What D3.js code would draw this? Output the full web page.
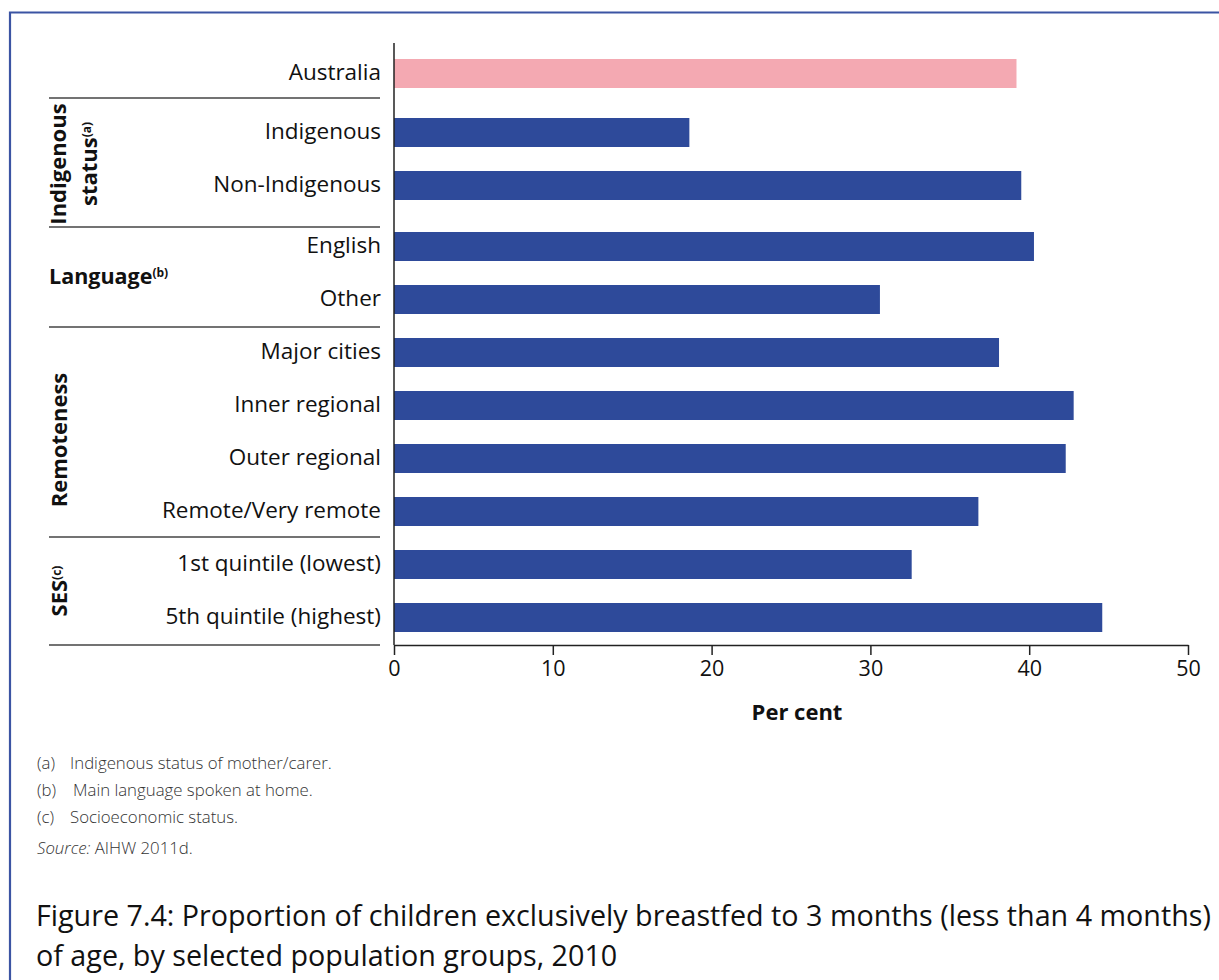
<!DOCTYPE html>
<html><head><meta charset="utf-8">
<script src="https://cdn.jsdelivr.net/npm/d3@7/dist/d3.min.js"></script>
<style>
html,body{margin:0;padding:0;background:#fff;}
svg{display:block;}
</style></head>
<body>
<script>
// ---- data ----
const categories = ["Australia","Indigenous","Non-Indigenous","English","Other","Major cities","Inner regional","Outer regional","Remote/Very remote","1st quintile (lowest)","5th quintile (highest)"];
const values = [39.2, 18.6, 39.5, 40.3, 30.6, 38.1, 42.8, 42.3, 36.8, 32.6, 44.6];
const groupOf = [0, 1, 1, 2, 2, 3, 3, 3, 3, 4, 4];
const groupNames = ["", "Indigenous status", "Language", "Remoteness", "SES"];
const groupNotes = ["", "(a)", "(b)", "(c)", "(c)"];
const xTicks = [0, 10, 20, 30, 40, 50];
const footnotes = [["(a)", "Indigenous status of mother/carer."], ["(b)", "Main language spoken at home."], ["(c)", "Socioeconomic status."]];
const titleLines = ["Figure 7.4: Proportion of children exclusively breastfed to 3 months (less than 4 months)", "of age, by selected population groups, 2010"];

// ---- layout ----
const W = 1219, H = 980;
const FONT = "'Open Sans', 'Noto Sans', sans-serif";
const BLUE = "#2E4A9A", PINK = "#F4A9B2";
const svg = d3.select("body").append("svg").attr("width", W).attr("height", H);

// frame
svg.append("path").attr("d", `M10,${H+5} L10,12.5 L${W+5},12.5`).attr("fill", "none").attr("stroke", "#3B54A3").attr("stroke-width", 2.2);

const x = d3.scaleLinear().domain([0, 50]).range([394, 1188]);
const groupShift = [0, 6, 14, 14, 14];
const yb = d3.scaleBand().domain(categories).range([59, 618]).paddingInner(24 / 53).paddingOuter(0);
const yTop = (d, i) => yb(d) + groupShift[groupOf[i]];
const bh = yb.bandwidth();

// bars
svg.append("g").selectAll("rect").data(categories).join("rect")
  .attr("x", x(0)).attr("y", (d, i) => yTop(d, i))
  .attr("width", (d, i) => x(values[i]) - x(0)).attr("height", bh)
  .attr("fill", (d, i) => i === 0 ? PINK : BLUE);

// category labels
svg.append("g").selectAll("text").data(categories).join("text")
  .attr("x", 381).attr("y", (d, i) => yTop(d, i) + bh / 2 - 1)
  .attr("dy", "0.35em").attr("text-anchor", "end")
  .attr("font-family", FONT).attr("font-size", 22.5).attr("fill", "#111")
  .text(d => d);

// y axis line
svg.append("line").attr("x1", x(0)).attr("x2", x(0)).attr("y1", 43).attr("y2", 645).attr("stroke", "#222").attr("stroke-width", 1.5);

// x axis
const xAxis = svg.append("g").attr("transform", "translate(0,645)")
  .call(d3.axisBottom(x).tickValues(xTicks).tickSize(10).tickSizeOuter(0).tickPadding(6));
xAxis.select(".domain").attr("stroke", "#222").attr("stroke-width", 1.5);
xAxis.selectAll(".tick line").attr("stroke", "#222").attr("stroke-width", 1.5);
xAxis.selectAll(".tick text").attr("font-family", FONT).attr("font-size", 21.5).attr("fill", "#111");
svg.append("text").attr("x", 797).attr("y", 720).attr("text-anchor", "middle")
  .attr("font-family", FONT).attr("font-size", 22).attr("font-weight", "bold").attr("fill", "#111").text("Per cent");

// group separators
const sepGap = [20, 5, 11, 13];
const firsts = [1, 3, 5, 9];
firsts.forEach((fi, k) => {
  const yy = yTop(categories[fi], fi) - sepGap[k];
  svg.append("line").attr("x1", 49).attr("x2", 380).attr("y1", yy).attr("y2", yy).attr("stroke", "#444").attr("stroke-width", 1.6);
});
svg.append("line").attr("x1", 49).attr("x2", 380).attr("y1", 645).attr("y2", 645).attr("stroke", "#444").attr("stroke-width", 1.6);

// group labels
function groupCenter(g) {
  const idx = categories.map((d, i) => i).filter(i => groupOf[i] === g);
  const a = yTop(categories[idx[0]], idx[0]), b = yTop(categories[idx[idx.length - 1]], idx[idx.length - 1]) + bh;
  return (a + b) / 2;
}
function rotLabel(g, cx, shift, lines) {
  const cy = groupCenter(g) + shift;
  const t = svg.append("text").attr("transform", `translate(${cx},${cy}) rotate(-90)`)
    .attr("text-anchor", "middle").attr("font-family", FONT).attr("font-weight", "bold").attr("font-size", 22).attr("fill", "#111");
  lines.forEach((ln, j) => {
    const ts = t.append("tspan").attr("x", 0).attr("dy", j === 0 ? 0 : 31);
    ts.append("tspan").text(ln[0]);
    if (ln[1]) ts.append("tspan").attr("font-size", 12).attr("dy", -6).text(ln[1]);
  });
  return t;
}
rotLabel(1, 66, 5, [[ "Indigenous", "" ], [ "status", groupNotes[1] ]]);
rotLabel(3, 67, 8, [[groupNames[3], ""]]);
rotLabel(4, 67, 0, [[groupNames[4], groupNotes[4]]]);
const lang = svg.append("text").attr("x", 49).attr("y", 284).attr("font-family", FONT).attr("font-weight", "bold").attr("font-size", 21.5).attr("fill", "#111");
lang.append("tspan").text(groupNames[2]);
lang.append("tspan").attr("font-size", 12).attr("dy", -7).text(groupNotes[2]);

// footnotes
const FN = 16.8;
footnotes.forEach((f, i) => {
  const yy = 769 + i * 27;
  svg.append("text").attr("x", 37).attr("y", yy).attr("font-family", FONT).attr("font-size", FN).attr("font-weight", 300).attr("fill", "#333").text(f[0]);
  svg.append("text").attr("x", i === 1 ? 73 : 70).attr("y", yy).attr("font-family", FONT).attr("font-size", FN).attr("font-weight", 300).attr("fill", "#333").text(f[1]);
});
const src = svg.append("text").attr("x", 37).attr("y", 854).attr("font-family", FONT).attr("font-size", FN).attr("font-weight", 300).attr("fill", "#333");
src.append("tspan").attr("font-style", "italic").text("Source:");
src.append("tspan").text(" AIHW 2011d.");

// title
titleLines.forEach((t, i) => {
  svg.append("text").attr("x", 36).attr("y", 926 + i * 40).attr("font-family", FONT).attr("font-size", 28.7).attr("fill", "#111").text(t);
});
</script>
</body></html>
